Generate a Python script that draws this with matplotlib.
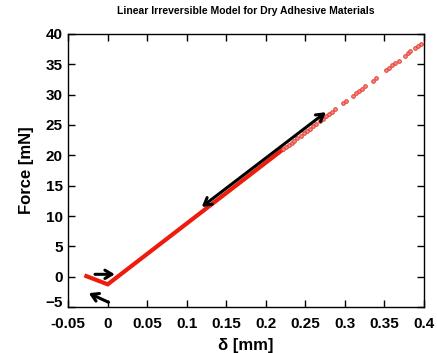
import matplotlib.pyplot as plt
from matplotlib.transforms import ScaledTranslation

plt.rcParams['font.family'] = ['Liberation Sans', 'DejaVu Sans']

# loading/unloading path (solid part)
path_x = [-0.027, 0.0, 0.22]
path_f = [0.1, -1.25, 20.8]

# sparse points further out
pts_x = [0.222, 0.226, 0.229, 0.233, 0.236, 0.240, 0.244, 0.248, 0.252, 0.256,
         0.260, 0.264, 0.268, 0.272, 0.276, 0.280, 0.284, 0.288, 0.298, 0.301,
         0.310, 0.314, 0.318, 0.322, 0.326, 0.335, 0.339, 0.352, 0.356, 0.360,
         0.364, 0.368, 0.376, 0.380, 0.383, 0.389, 0.392, 0.396]
pts_f = [21.0, 21.4, 21.7, 22.1, 22.4, 22.8, 23.2, 23.6, 24.0, 24.4,
         24.8, 25.2, 25.6, 26.0, 26.4, 26.8, 27.2, 27.6, 28.6, 28.9,
         29.8, 30.2, 30.6, 31.0, 31.4, 32.3, 32.7, 34.0, 34.4, 34.8,
         35.2, 35.6, 36.4, 36.8, 37.1, 37.7, 38.0, 38.4]

# arrows: (start x, start y, end x, end y)
arrows = [
    (0.119, 11.5, 0.276, 27.1, '<->'),
    (-0.016, 0.4, 0.009, 0.4, '->'),
    (0.001, -4.2, -0.024, -2.7, '->'),
]

fig = plt.figure(figsize=(4.37, 3.53), dpi=100)
ax = fig.add_axes([0.156, 0.130, 0.814, 0.774])

ax.plot(path_x, path_f, color='#ee1c0c', lw=3, solid_joinstyle='miter', zorder=2)
ax.plot(pts_x, pts_f, 'o', ms=2.6, mfc='#f49088', mec='#e63a2c', mew=0.7, zorder=2)

for x0, y0, x1, y1, style in arrows:
    ax.annotate('', xy=(x1, y1), xytext=(x0, y0),
                arrowprops=dict(arrowstyle=style + ',head_length=0.5,head_width=0.3',
                                color='black', lw=2.2, shrinkA=0, shrinkB=0), zorder=3)

ax.set_xlim(-0.05, 0.4)
ax.set_ylim(-5, 40)
ax.set_xticks([-0.05, 0, 0.05, 0.1, 0.15, 0.2, 0.25, 0.3, 0.35, 0.4])
ax.set_xticklabels(['-0.05', '0', '0.05', '0.1', '0.15', '0.2', '0.25', '0.3', '0.35', '0.4'])
ax.set_yticks(range(-5, 41, 5))
ax.tick_params(direction='in', top=True, right=True, length=5, width=1,
               labelsize=11)
ax.tick_params(axis='x', pad=7)
ax.tick_params(axis='y', pad=4)
for lab in ax.get_xticklabels() + ax.get_yticklabels():
    lab.set_fontweight('bold')
# lift the bottom y label a little so it clears the x labels
ylab0 = ax.get_yticklabels()[0]
ylab0.set_transform(ylab0.get_transform() + ScaledTranslation(0, 4 / 72, fig.dpi_scale_trans))
for s in ax.spines.values():
    s.set_linewidth(1)

ax.set_xlabel('δ [mm]', fontsize=12, fontweight='bold', labelpad=5)
ax.set_ylabel('Force [mN]', fontsize=12, fontweight='bold', labelpad=8)
ax.set_title('Linear Irreversible Model for Dry Adhesive Materials',
             fontsize=7.5, fontweight='bold', pad=14)

fig.savefig('out.png', dpi=100)
